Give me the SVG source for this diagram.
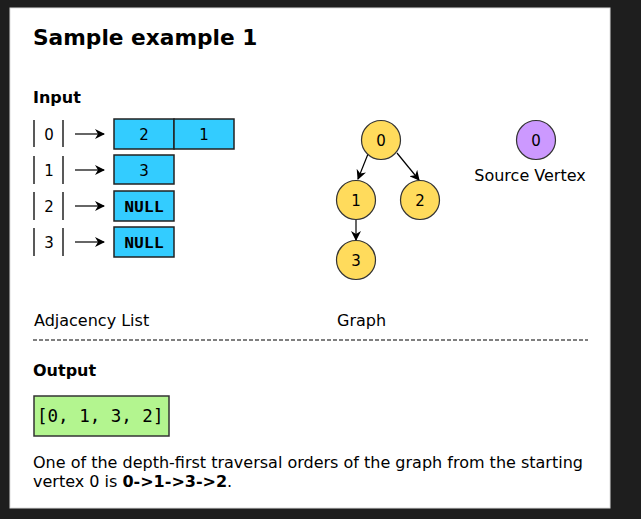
<svg xmlns="http://www.w3.org/2000/svg" width="641" height="519" viewBox="0 0 641 519">
<defs>
<style>
.t{font-family:"DejaVu Sans",Verdana,sans-serif;fill:#000}
.cell{fill:#33ccff;stroke:#222;stroke-width:1.5}
.node{fill:#ffdb5c;stroke:#333;stroke-width:1.2}
.src{fill:#cc99ff;stroke:#333;stroke-width:1.2}
.bar{stroke:#222;stroke-width:1.5}
.edge{stroke:#000;stroke-width:1.2;fill:none}
.mono{font-family:"Liberation Mono","Courier New",monospace;font-weight:bold}
</style>
<marker id="ah" viewBox="0 0 10 10" refX="9" refY="5" markerWidth="10" markerHeight="10" orient="auto" markerUnits="userSpaceOnUse">
<path d="M0,0 L10,5 L0,10 L3,5 Z" fill="#000"/>
</marker>
</defs>
<rect x="0" y="0" width="641" height="519" fill="#1e1e1e"/>
<rect x="10" y="8" width="600" height="500" fill="#fff" stroke="#ddd" stroke-width="1"/>
<text class="t" x="33" y="45" font-size="21.7" font-weight="bold">Sample example 1</text>
<text class="t" x="33" y="103" font-size="16" font-weight="bold">Input</text>

<g id="adjacency-list">
<g id="row0">
<line class="bar" x1="34" y1="120" x2="34" y2="147"/><line class="bar" x1="63" y1="120" x2="63" y2="147"/>
<text class="t" x="49" y="140" font-size="15" text-anchor="middle">0</text>
<rect class="cell" x="114" y="119" width="60" height="30"/><rect class="cell" x="174" y="119" width="60" height="30"/>
<text class="t" x="144" y="140" font-size="15" text-anchor="middle">2</text>
<text class="t" x="204" y="140" font-size="15" text-anchor="middle">1</text>
</g>
<g id="row1">
<line class="bar" x1="34" y1="156" x2="34" y2="184"/><line class="bar" x1="63" y1="156" x2="63" y2="184"/>
<text class="t" x="49" y="176" font-size="15" text-anchor="middle">1</text>
<rect class="cell" x="114" y="155" width="60" height="29"/>
<text class="t" x="144" y="176" font-size="15" text-anchor="middle">3</text>
</g>
<g id="row2">
<line class="bar" x1="34" y1="192" x2="34" y2="220"/><line class="bar" x1="63" y1="192" x2="63" y2="220"/>
<text class="t" x="49" y="212" font-size="15" text-anchor="middle">2</text>
<rect class="cell" x="114" y="191" width="60" height="30"/>
<text class="mono" x="144" y="212" font-size="16.5" text-anchor="middle">NULL</text>
</g>
<g id="row3">
<line class="bar" x1="34" y1="228" x2="34" y2="256"/><line class="bar" x1="63" y1="228" x2="63" y2="256"/>
<text class="t" x="49" y="248" font-size="15" text-anchor="middle">3</text>
<rect class="cell" x="114" y="227" width="60" height="30"/>
<text class="mono" x="144" y="248" font-size="16.5" text-anchor="middle">NULL</text>
</g>
</g>

<g id="connectors">
<line class="edge" x1="75" y1="134" x2="104" y2="134" marker-end="url(#ah)"/>
<line class="edge" x1="75" y1="170" x2="104" y2="170" marker-end="url(#ah)"/>
<line class="edge" x1="75" y1="206" x2="104" y2="206" marker-end="url(#ah)"/>
<line class="edge" x1="75" y1="242" x2="104" y2="242" marker-end="url(#ah)"/>
<line class="edge" x1="368" y1="154" x2="358" y2="179" marker-end="url(#ah)"/>
<line class="edge" x1="397" y1="153" x2="419" y2="180" marker-end="url(#ah)"/>
<line class="edge" x1="356" y1="219" x2="356" y2="240" marker-end="url(#ah)"/>
</g>

<g id="node-0"><circle class="node" cx="381" cy="140" r="19.5"/><text class="t" x="381" y="146" font-size="15" text-anchor="middle">0</text></g>
<g id="node-1"><circle class="node" cx="356" cy="200" r="19.5"/><text class="t" x="356" y="206" font-size="15" text-anchor="middle">1</text></g>
<g id="node-2"><circle class="node" cx="420" cy="200" r="19.5"/><text class="t" x="420" y="206" font-size="15" text-anchor="middle">2</text></g>
<g id="node-3"><circle class="node" cx="356" cy="260" r="19.5"/><text class="t" x="356" y="266" font-size="15" text-anchor="middle">3</text></g>
<g id="source-vertex"><circle class="src" cx="536" cy="140" r="19.5"/><text class="t" x="536" y="146" font-size="15" text-anchor="middle">0</text>
<text class="t" x="530" y="181" font-size="16" text-anchor="middle">Source Vertex</text></g>

<text class="t" x="34" y="326" font-size="16">Adjacency List</text>
<text class="t" x="337" y="326" font-size="16">Graph</text>
<line x1="33" y1="340" x2="588" y2="340" stroke="#000" stroke-width="1" stroke-dasharray="4,2"/>
<text class="t" x="33" y="376" font-size="16" font-weight="bold">Output</text>
<g id="output">
<rect x="34" y="396" width="135" height="40" fill="#b3f58f" stroke="#333" stroke-width="1.5"/>
<text x="37" y="422" font-size="17.5" font-family="'DejaVu Sans Mono',monospace">[0, 1, 3, 2]</text>
</g>
<text class="t" x="33" y="468" font-size="16">One of the depth-first traversal orders of the graph from the starting</text>
<text class="t" x="33" y="487" font-size="16">vertex 0 is <tspan font-weight="bold">0-&gt;1-&gt;3-&gt;2</tspan>.</text>
</svg>
